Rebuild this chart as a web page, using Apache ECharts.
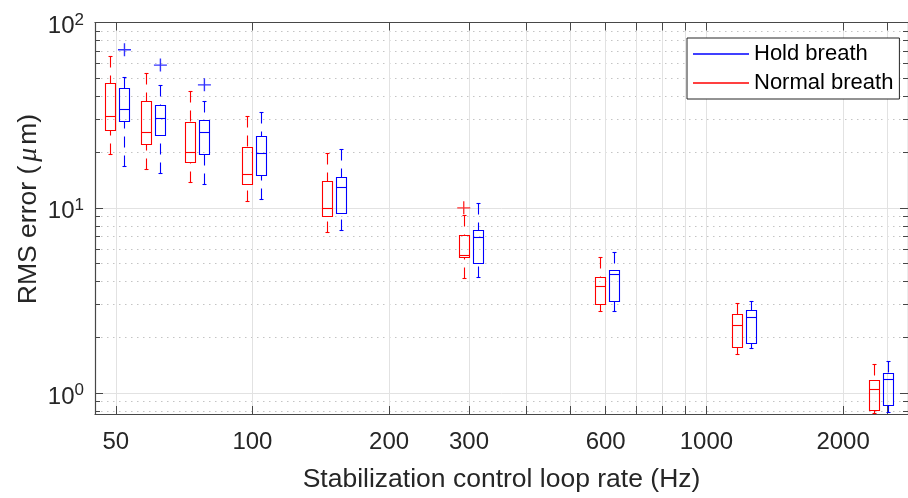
<!DOCTYPE html>
<html>
<head>
<meta charset="utf-8">
<script src="https://cdn.jsdelivr.net/npm/echarts@6/dist/echarts.min.js"></script>
<style>
  html, body { margin: 0; padding: 0; background: #fff; }
  #chart { width: 908px; height: 498px; }
</style>
</head>
<body>
<div id="chart"></div>
<script>
// loop rates (Hz) of each pair of boxes
const rates = [50, 60, 75, 100, 150, 300, 600, 1200, 2400];

// [lower whisker, Q1, median, Q3, upper whisker] for each rate
const holdBreath = [
  [16.8, 29.5, 34.1, 44.1, 50.8],
  [15.4, 24.8, 30.6, 36.1, 46.1],
  [13.4, 19.6, 25.5, 29.7, 37.9],
  [11.1, 15.1, 19.8, 24.5, 32.9],
  [7.56, 9.38, 12.9, 14.6, 20.8],
  [4.23, 5.03, 7.0, 7.56, 10.6],
  [2.78, 3.14, 4.42, 4.64, 5.78],
  [1.75, 1.86, 2.57, 2.81, 3.15],
  [0.789, 0.864, 1.195, 1.28, 1.5]
];
const normalBreath = [
  [19.6, 26.3, 31.4, 46.9, 65.7],
  [16.3, 22.1, 25.6, 37.9, 53.6],
  [13.8, 17.6, 20.0, 29.2, 42.7],
  [10.9, 13.5, 15.3, 21.2, 31.3],
  [7.44, 9.08, 10.0, 13.9, 19.8],
  [4.18, 5.42, 5.6, 7.15, 9.12],
  [2.78, 3.04, 3.79, 4.21, 5.42],
  [1.62, 1.78, 2.33, 2.66, 3.08],
  [0.78, 0.809, 1.05, 1.18, 1.43]
];
const holdOutliers = [[50, 71.3], [60, 58.9], [75, 46.1]];
const normalOutliers = [[300, 10.0]];

const xTicks = [50, 100, 200, 300, 400, 500, 600, 700, 800, 900, 1000, 2000, 2500];
const xLabels = [50, 100, 200, 300, 600, 1000, 2000];
const yTicks = [1, 10, 100];
const yMinorTicks = [0.8, 0.9, 2, 3, 4, 5, 6, 7, 8, 9, 20, 30, 40, 50, 60, 70, 80, 90];

const AX = '#262626';
const LINE = '#474747';
const FONT = 'Liberation Sans';
const RED = '#ff0000';
const BLUE = '#0000ff';

const chart = echarts.init(document.getElementById('chart'));

const crisp = (v) => Math.round(v) + 0.5;

// MATLAB style box: solid box + median, dashed whiskers, short caps
function boxRenderer(color, dx) {
  return (params, api) => {
    const at = (i) => api.coord([api.value(0), api.value(i)]);
    const lo = at(1), q1 = at(2), med = at(3), q3 = at(4), hi = at(5);
    const cx = crisp(lo[0] + dx);
    const hw = 5, cw = 2;
    const yLo = crisp(lo[1]), yQ1 = crisp(q1[1]), yMed = crisp(med[1]), yQ3 = crisp(q3[1]), yHi = crisp(hi[1]);
    const seg = (x1, y1, x2, y2, dash) => ({
      type: 'line',
      shape: { x1, y1, x2, y2 },
      style: { stroke: color, fill: null, lineWidth: 1.1, lineDash: dash || null }
    });
    return {
      type: 'group',
      children: [
        { type: 'rect', shape: { x: cx - hw, y: yQ3, width: 2 * hw, height: yQ1 - yQ3 },
          style: { fill: 'none', stroke: color, lineWidth: 1.1 } },
        seg(cx - hw, yMed, cx + hw, yMed),
        seg(cx, yHi, cx, yQ3, [11, 8]),
        seg(cx, yLo, cx, yQ1, [11, 8]),
        seg(cx - cw, yHi, cx + cw, yHi),
        seg(cx - cw, yLo, cx + cw, yLo)
      ]
    };
  };
}

const logX = { type: 'log', logBase: 10, min: 45, max: 2780 };
const logY = { type: 'log', logBase: 10, min: 0.772, max: 100 };
const hidden = { show: false };

chart.setOption({
  animation: false,
  textStyle: { fontFamily: FONT },
  grid: { left: 95, top: 22.5, width: 818, height: 398 },
  legend: {
    orient: 'vertical',
    left: 687,
    top: 38,
    padding: [5, 6, 5, 6],
    itemGap: 7,
    itemWidth: 56,
    itemHeight: 1.5,
    selectedMode: false,
    borderColor: AX,
    borderWidth: 1,
    backgroundColor: '#fff',
    textStyle: { fontSize: 22, color: '#000', fontFamily: FONT },
    data: [
      { name: 'Hold breath', icon: 'rect', itemStyle: { color: BLUE } },
      { name: 'Normal breath', icon: 'rect', itemStyle: { color: RED } }
    ]
  },
  xAxis: [
    {
      ...logX,
      position: 'bottom',
      name: 'Stabilization control loop rate (Hz)',
      nameLocation: 'middle',
      nameGap: 52,
      nameTextStyle: { fontSize: 26.5, color: AX, fontFamily: FONT },
      axisLine: { lineStyle: { color: LINE, width: 1.2 } },
      axisTick: { inside: true, length: 8, customValues: xTicks, lineStyle: { color: LINE } },
      axisLabel: { customValues: xLabels, margin: 16, fontSize: 24, color: AX, formatter: (v) => String(v) },
      splitLine: { show: true, lineStyle: { color: '#e2e2e2', width: 1 } },
      minorTick: hidden,
      minorSplitLine: hidden
    },
    {
      ...logX,
      position: 'top',
      axisLine: { lineStyle: { color: LINE, width: 1.2 } },
      axisTick: { inside: true, length: 8, customValues: xTicks, lineStyle: { color: LINE } },
      axisLabel: hidden,
      splitLine: hidden
    }
  ],
  yAxis: [
    {
      ...logY,
      position: 'left',
      axisLine: { show: true, lineStyle: { color: LINE, width: 1.2 } },
      axisTick: { inside: true, length: 8, customValues: yTicks, lineStyle: { color: LINE } },
      axisLabel: {
        customValues: yTicks,
        margin: 11,
        padding: [8, 0, 0, 0],
        formatter: (v) => '{b|10}{s|' + Math.round(Math.log10(v)) + '}',
        rich: {
          b: { fontSize: 24, lineHeight: 24, color: AX, fontFamily: FONT, verticalAlign: 'bottom' },
          s: { fontSize: 17, lineHeight: 17, color: AX, fontFamily: FONT, padding: [0, 0, 10, 0], verticalAlign: 'bottom' }
        }
      },
      splitLine: { show: true, lineStyle: { color: '#e2e2e2', width: 1 } }
    },
    {
      ...logY,
      position: 'left',
      axisLine: hidden,
      axisTick: { inside: true, length: 5, customValues: yMinorTicks, lineStyle: { color: LINE } },
      axisLabel: hidden,
      splitLine: { show: true, lineStyle: { color: '#c4c4c4', width: 1, type: [1.5, 4.5] } }
    },
    {
      ...logY,
      position: 'right',
      axisLine: { show: true, lineStyle: { color: LINE, width: 1.2 } },
      axisTick: { inside: true, length: 8, customValues: yTicks, lineStyle: { color: LINE } },
      axisLabel: hidden,
      splitLine: hidden
    },
    {
      ...logY,
      position: 'right',
      axisLine: hidden,
      axisTick: { inside: true, length: 5, customValues: yMinorTicks, lineStyle: { color: LINE } },
      axisLabel: hidden,
      splitLine: hidden
    }
  ],
  graphic: [
    {
      type: 'text',
      x: 29,
      y: 209,
      rotation: Math.PI / 2,
      style: {
        text: '{a|RMS error (}{m|μ}{a|m)}',
        align: 'center',
        verticalAlign: 'middle',
        rich: {
          a: { fontSize: 26.5, fontFamily: FONT, fill: AX },
          m: { fontSize: 28, fontFamily: 'Liberation Serif', fontStyle: 'italic', fill: AX, padding: [0, 3, 0, 4] }
        }
      }
    }
  ],
  series: [
    {
      name: 'Normal breath',
      type: 'custom',
      xAxisIndex: 0,
      yAxisIndex: 0,
      itemStyle: { color: RED },
      encode: { x: 0, y: [1, 2, 3, 4, 5] },
      renderItem: boxRenderer(RED, -5.3),
      data: rates.map((r, i) => [r, ...normalBreath[i]])
    },
    {
      name: 'Hold breath',
      type: 'custom',
      xAxisIndex: 0,
      yAxisIndex: 0,
      itemStyle: { color: BLUE },
      encode: { x: 0, y: [1, 2, 3, 4, 5] },
      renderItem: boxRenderer(BLUE, 8.7),
      data: rates.map((r, i) => [r, ...holdBreath[i]])
    },
    {
      type: 'scatter',
      xAxisIndex: 0,
      yAxisIndex: 0,
      symbol: 'path://M5,0L5,10M0,5L10,5',
      symbolSize: 13,
      symbolOffset: [-5.3, 0],
      itemStyle: { color: 'transparent', borderColor: RED, borderWidth: 1.4 },
      data: normalOutliers
    },
    {
      type: 'scatter',
      xAxisIndex: 0,
      yAxisIndex: 0,
      symbol: 'path://M5,0L5,10M0,5L10,5',
      symbolSize: 13,
      symbolOffset: [8.7, 0],
      itemStyle: { color: 'transparent', borderColor: BLUE, borderWidth: 1.4 },
      data: holdOutliers
    }
  ]
});
</script>
</body>
</html>
